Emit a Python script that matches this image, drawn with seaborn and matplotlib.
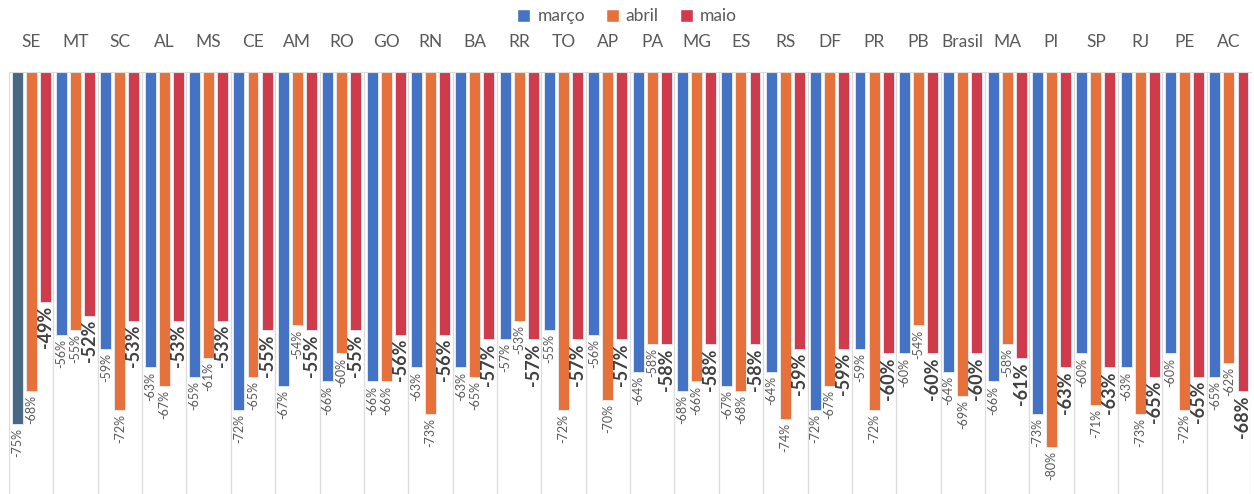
import numpy as np
import pandas as pd
import seaborn as sns
import matplotlib.pyplot as plt
from matplotlib.patches import Patch

estados = ['SE', 'MT', 'SC', 'AL', 'MS', 'CE', 'AM', 'RO', 'GO', 'RN', 'BA', 'RR', 'TO', 'AP',
           'PA', 'MG', 'ES', 'RS', 'DF', 'PR', 'PB', 'Brasil', 'MA', 'PI', 'SP', 'RJ', 'PE', 'AC']
marco = [-75, -56, -59, -63, -65, -72, -67, -66, -66, -63, -63, -57, -55, -56,
         -64, -68, -67, -64, -72, -59, -60, -64, -66, -73, -60, -63, -60, -65]
abril = [-68, -55, -72, -67, -61, -65, -54, -60, -66, -73, -65, -53, -72, -70,
         -58, -66, -68, -74, -67, -72, -54, -69, -58, -80, -71, -73, -72, -62]
maio = [-49, -52, -53, -53, -53, -55, -55, -55, -56, -56, -57, -57, -57, -57,
        -58, -58, -58, -59, -59, -60, -60, -60, -61, -63, -63, -65, -65, -68]
meses = ['março', 'abril', 'maio']
cores = ['#4472C4', '#E6713A', '#CF3B4B']

df = pd.DataFrame({'estado': estados * 3,
                   'mes': np.repeat(meses, len(estados)),
                   'valor': marco + abril + maio})

sns.set_style('white')
plt.rcParams['font.family'] = ['Lato', 'DejaVu Sans']

fig = plt.figure(figsize=(12.54, 4.94), dpi=100)
ax = fig.add_axes([0.0072, 0.0, 0.9905, 0.854])

sns.barplot(data=df, x='estado', y='valor', hue='mes', hue_order=meses,
            palette=cores, saturation=1, width=0.95, gap=0.22, ax=ax, legend=False,
            edgecolor='#e8eef8', linewidth=0.6, errorbar=None)

# SE março highlighted
ax.containers[0][0].set_facecolor('#486884')

for i, cont in enumerate(ax.containers):
    labs = [f'{v:.0f}%' for v in cont.datavalues]
    if i < 2:
        ax.bar_label(cont, labels=labs, rotation=90, padding=3, fontsize=9, color='#595959')
    else:
        ax.bar_label(cont, labels=labs, rotation=90, padding=3, fontsize=13,
                     fontweight='bold', color='#404040')

ax.set_ylim(-90, 0)
ax.set_xlim(-0.5, len(estados) - 0.5)
ax.set_yticks([])
ax.set_xlabel('')
ax.set_ylabel('')
ax.xaxis.set_ticks_position('top')
ax.tick_params(axis='x', which='major', length=0, pad=16, labelsize=12.5, labelcolor='#595959')
ax.set_xticks(np.arange(-0.5, len(estados), 1), minor=True)
ax.tick_params(axis='x', which='minor', length=0)
ax.grid(which='minor', axis='x', color='#dcdcdc', linewidth=0.9)
ax.set_axisbelow(True)
for s in ['left', 'right', 'bottom']:
    ax.spines[s].set_visible(False)
ax.spines['top'].set_color('#dcdcdc')

handles = [Patch(facecolor=c, label=m) for c, m in zip(cores, meses)]
fig.legend(handles=handles, loc='center', bbox_to_anchor=(0.5, 0.967), ncol=3,
           frameon=False, fontsize=12.5, handlelength=0.75, handleheight=0.75,
           handletextpad=0.4, columnspacing=1.2, labelcolor='#595959')

fig.savefig('out.png', dpi=100)
